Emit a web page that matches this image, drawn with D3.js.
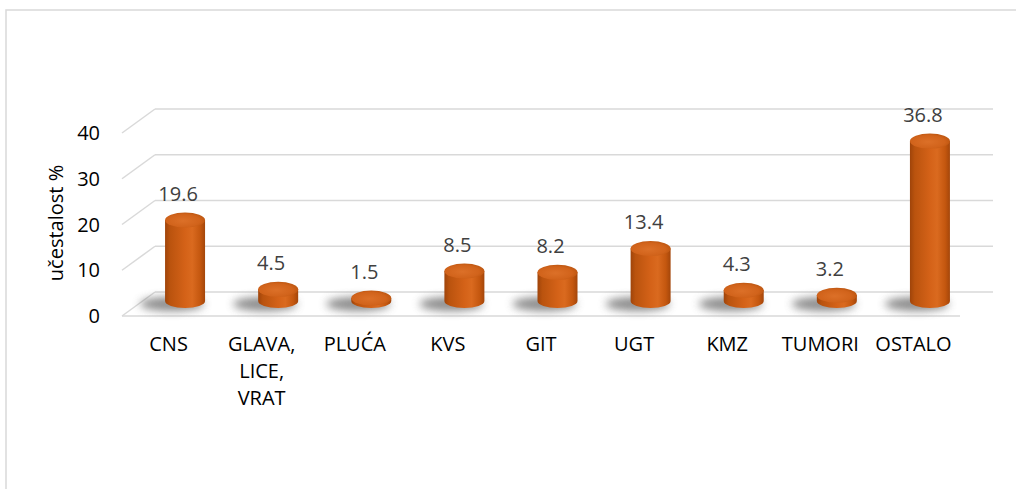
<!DOCTYPE html>
<html>
  <head>
    <meta charset="utf-8">
    <title>učestalost %</title>
    <script src="https://d3js.org/d3.v7.min.js"></script>
  </head>
  <body style="margin:0;background:#fff;">
    <style>
      text { font-family: "Open Sans", "Noto Sans", sans-serif; }
      .grid { stroke: #d9d9d9; stroke-width: 1.5; fill: none; }
    </style>
    <div id="chart"></div>
    <script>

      var categories = ["CNS", "GLAVA, LICE, VRAT", "PLUĆA", "KVS", "GIT", "UGT", "KMZ", "TUMORI", "OSTALO"];
      var values = [19.6, 4.5, 1.5, 8.5, 8.2, 13.4, 4.3, 3.2, 36.8];
      var yTicks = [0, 10, 20, 30, 40];
      var yTitle = "učestalost %";

      var width = 1016,
        height = 489;

      // 3D depth offset (back wall -> front edge)
      var depthX = -33,
        depthY = 24;

      var svg = d3.select("#chart")
        .append("svg")
          .attr("width", width)
          .attr("height", height);

      var defs = svg.append("defs");

      var bodyGrad = defs.append("linearGradient").attr("id", "body");
      [["0%", "#9f440a"], ["12%", "#ba530e"], ["50%", "#d46218"], ["68%", "#da6a1f"], ["88%", "#c4570f"], ["100%", "#a4460a"]]
        .forEach((s) => bodyGrad.append("stop").attr("offset", s[0]).attr("stop-color", s[1]));

      var topGrad = defs.append("radialGradient").attr("id", "top")
        .attr("cx", "45%").attr("cy", "55%").attr("r", "60%");
      [["0%", "#dc7028"], ["70%", "#d1631b"], ["100%", "#b9540f"]]
        .forEach((s) => topGrad.append("stop").attr("offset", s[0]).attr("stop-color", s[1]));

      defs.append("filter").attr("id", "blur")
        .attr("x", "-50%").attr("y", "-100%").attr("width", "200%").attr("height", "300%")
        .append("feGaussianBlur").attr("stdDeviation", 4);

      // chart frame
      svg.append("rect")
        .attr("x", 6).attr("y", 10)
        .attr("width", 1100).attr("height", 600)
        .attr("fill", "none")
        .attr("stroke", "#d9d9d9")
        .attr("stroke-width", 1.5);

      var x = d3.scaleBand()
        .domain(categories)
        .range([155, 993]);

      var y = d3.scaleLinear()
        .domain([0, 40])
        .range([292, 109]);

      // bar tops sit a little lower because of the bevel
      var yBar = d3.scaleLinear()
        .domain([0, 40])
        .range([310, 126.4]);
      var barBottom = 301;

      // back wall gridlines and left wall diagonals
      var grid = svg.append("g");
      grid.selectAll("line.h")
        .data(yTicks)
        .enter().append("line")
          .attr("class", "grid")
          .attr("x1", x.range()[0]).attr("x2", x.range()[1])
          .attr("y1", (d) => y(d)).attr("y2", (d) => y(d));
      grid.selectAll("line.d")
        .data(yTicks)
        .enter().append("line")
          .attr("class", "grid")
          .attr("x1", x.range()[0] + depthX).attr("y1", (d) => y(d) + depthY)
          .attr("x2", x.range()[0]).attr("y2", (d) => y(d));
      // floor front edge
      grid.append("line")
        .attr("class", "grid")
        .attr("x1", x.range()[0] + depthX).attr("x2", x.range()[1] + depthX)
        .attr("y1", y(0) + depthY).attr("y2", y(0) + depthY);

      // y axis labels at the front-left edge
      svg.append("g")
        .selectAll("text")
        .data(yTicks)
        .enter().append("text")
          .attr("x", 100)
          .attr("y", (d) => y(d) + depthY)
          .attr("dy", "0.35em")
          .attr("text-anchor", "end")
          .attr("font-size", 20)
          .attr("fill", "#000")
          .text((d) => d);

      svg.append("text")
        .attr("transform", "translate(63,223) rotate(-90)")
        .attr("text-anchor", "middle")
        .attr("font-size", 20)
        .attr("fill", "#000")
        .text(yTitle);

      var rx = 20, ryTop = 7.5, ryBot = 7;
      var midX = (d) => x(d) + x.bandwidth() / 2 + depthX / 2;
      var barTop = (v) => Math.min(yBar(v), barBottom - 3);

      var bars = svg.append("g")
        .selectAll("g")
        .data(categories.map((c, i) => ({ cat: c, val: values[i] })))
        .enter().append("g");

      // floor shadow
      bars.append("ellipse")
        .attr("cx", (d) => midX(d.cat) - 13)
        .attr("cy", barBottom + 3)
        .attr("rx", 32)
        .attr("ry", 7)
        .attr("fill", "#707070")
        .attr("opacity", 0.8)
        .attr("filter", "url(#blur)");

      // cylinder body
      bars.append("path")
        .attr("fill", "url(#body)")
        .attr("d", (d) => {
          var cx = midX(d.cat),
            t = barTop(d.val);
          return "M" + (cx - rx) + "," + t +
            "L" + (cx - rx) + "," + barBottom +
            "A" + rx + "," + ryBot + " 0 0 0 " + (cx + rx) + "," + barBottom +
            "L" + (cx + rx) + "," + t + "Z";
        });

      // cylinder top
      bars.append("ellipse")
        .attr("cx", (d) => midX(d.cat))
        .attr("cy", (d) => barTop(d.val))
        .attr("rx", rx)
        .attr("ry", ryTop)
        .attr("fill", "url(#top)");

      // value labels
      bars.append("text")
        .attr("x", (d) => midX(d.cat) - 7)
        .attr("y", (d) => barTop(d.val) - 19)
        .attr("text-anchor", "middle")
        .attr("font-size", 20)
        .attr("fill", "#404040")
        .text((d) => d.val);

      // category labels along the front edge, wrapped
      var labels = svg.append("g")
        .selectAll("text")
        .data(categories)
        .enter().append("text")
          .attr("x", (d) => x(d) + x.bandwidth() / 2 + depthX)
          .attr("y", 351)
          .attr("text-anchor", "middle")
          .attr("font-size", 20)
          .attr("fill", "#000")
          .text((d) => d);

      labels.each(function(d) {
        var text = d3.select(this),
          words = d.split(" "),
          xPos = text.attr("x"),
          line = [],
          tspan = text.text(null).append("tspan").attr("x", xPos);
        words.forEach((w) => {
          line.push(w);
          tspan.text(line.join(" "));
          if (tspan.node().getComputedTextLength() > 86 && line.length > 1) {
            line.pop();
            tspan.text(line.join(" "));
            line = [w];
            tspan = text.append("tspan").attr("x", xPos).attr("dy", 27).text(w);
          }
        });
      });

    </script>
  </body>
</html>
